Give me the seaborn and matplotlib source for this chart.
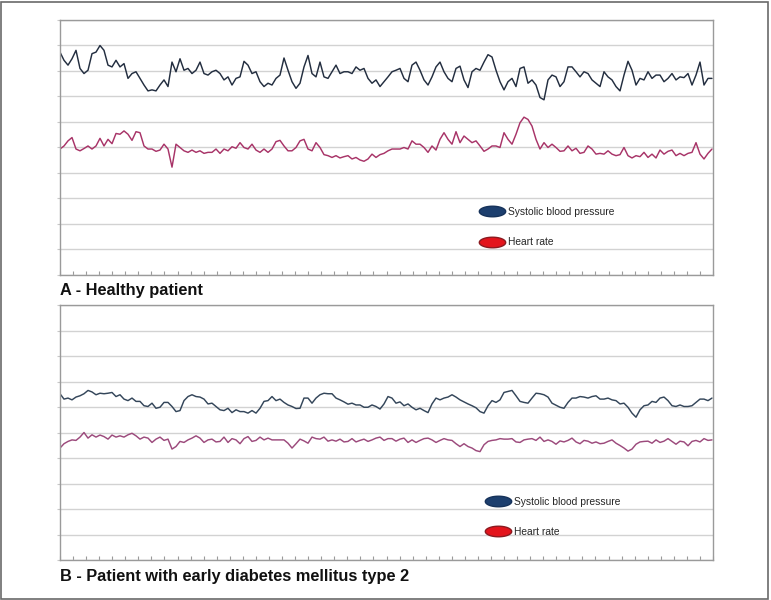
import numpy as np
import pandas as pd
import matplotlib
matplotlib.use("Agg")
import matplotlib.pyplot as plt
import seaborn as sns
from matplotlib.lines import Line2D
from matplotlib.path import Path
from matplotlib.patches import Rectangle

# ---------------- data (arbitrary vertical units, 0-10 grid) ----------------
sbp_healthy = [
    8.74, 8.42, 8.23, 8.48, 8.81, 8.10, 7.90, 8.03, 8.68, 8.74, 9.00, 8.81, 8.23, 8.16, 8.42, 8.16,
    8.29, 7.71, 7.90, 7.97, 7.71, 7.45, 7.22, 7.26, 7.22, 7.45, 7.65, 7.39, 8.35, 7.97, 8.48, 8.03,
    8.10, 7.90, 8.03, 8.35, 7.90, 7.84, 7.97, 8.03, 7.90, 7.65, 7.77, 7.45, 7.71, 7.77, 8.38, 8.23,
    7.90, 7.97, 7.58, 7.39, 7.52, 7.45, 7.71,
    7.84, 8.51, 8.03, 7.58, 7.32, 7.52, 8.16, 8.61, 7.90, 7.77, 8.35, 7.77, 7.71, 7.97, 8.23, 7.90,
    7.97, 7.97, 7.90, 8.16, 8.03, 8.10, 7.71, 7.52, 7.65, 7.39, 7.58, 7.77, 7.97, 8.03, 8.10, 7.71,
    7.58, 8.23, 8.35, 8.03, 7.65, 7.45, 7.77, 8.16, 8.35, 7.97, 7.71, 7.58, 8.10, 8.19, 7.65, 7.35,
    7.97, 8.10, 8.03, 8.35, 8.64, 8.55,
    8.03, 7.58, 7.26, 7.58, 7.71, 7.39, 8.10, 8.16, 7.52, 7.65, 7.45, 6.96, 6.87, 7.65, 7.84, 7.77,
    7.39, 7.58, 8.16, 8.16, 7.97, 7.77, 7.97, 7.90, 7.65, 7.52, 7.39, 7.97, 7.77, 7.65, 7.39, 7.22,
    7.84, 8.38, 8.03, 7.45, 7.71, 7.65, 7.97, 7.71, 7.84, 7.84, 7.58, 7.71, 7.90, 7.65, 7.77, 7.74,
    7.90, 7.45, 7.84, 8.35, 7.45, 7.71, 7.71,
]
hr_healthy = [
    4.94, 5.06, 5.26, 5.39, 4.94, 4.87, 4.96, 5.06, 4.94, 5.06, 5.36, 5.06, 5.32, 5.15, 5.55, 5.52,
    5.65, 5.52, 5.28, 5.62, 5.58, 5.06, 4.94, 4.94, 4.85, 4.90, 5.13, 4.94, 4.23, 5.13, 5.00, 4.87,
    4.81, 4.90, 4.81, 4.87, 4.77, 4.81, 4.81, 4.94, 4.77, 4.94, 4.87, 5.03, 4.97, 5.19, 5.00, 4.94,
    5.13, 4.90, 4.81, 4.94, 4.81, 4.94, 5.23,
    5.28, 5.06, 4.87, 4.87, 5.00, 5.26, 5.32, 4.94, 4.87, 5.19, 5.00, 4.72, 4.68, 4.61, 4.68, 4.59,
    4.64, 4.68, 4.55, 4.61, 4.51, 4.46, 4.55, 4.74, 4.61, 4.72, 4.77, 4.87, 4.94, 4.94, 4.94, 5.00,
    4.94, 5.26, 5.13, 5.13, 5.00, 4.81, 5.06, 4.90, 5.32, 5.58, 5.32, 5.13, 5.62, 5.19, 5.45, 5.32,
    5.19, 5.26, 5.06, 4.85, 4.94, 5.06,
    5.06, 5.00, 5.58, 5.32, 5.13, 5.52, 5.97, 6.19, 6.10, 5.84, 5.32, 4.94, 5.19, 5.00, 5.13, 5.00,
    4.85, 4.87, 5.06, 4.87, 4.97, 4.77, 4.81, 5.06, 4.94, 4.74, 4.77, 4.74, 4.87, 4.74, 4.68, 4.72,
    5.00, 4.68, 4.59, 4.68, 4.64, 4.81, 4.61, 4.74, 4.59, 4.90, 4.74, 4.85, 4.90, 4.68, 4.77, 4.68,
    4.77, 4.81, 5.19, 4.74, 4.55, 4.77, 4.94,
]
sbp_diabetes = [
    6.52, 6.31, 6.35, 6.28, 6.39, 6.44, 6.52, 6.65, 6.59, 6.48, 6.54, 6.52, 6.54, 6.57, 6.41, 6.48,
    6.31, 6.25, 6.35, 6.22, 6.22, 6.05, 6.02, 6.15, 5.95, 5.99, 6.18, 6.18, 6.02, 5.82, 5.86, 6.25,
    6.41, 6.48, 6.41, 6.39, 6.31, 6.12, 6.15, 6.02, 5.89, 5.86, 5.95, 5.78, 5.89, 5.82, 5.82, 5.76,
    5.86, 5.76, 5.95, 6.22, 6.25, 6.41, 6.25,
    6.31, 6.18, 6.08, 6.02, 5.94, 5.95, 6.35, 6.35, 6.15, 6.35, 6.48, 6.54, 6.52, 6.52, 6.35, 6.28,
    6.20, 6.11, 6.15, 6.08, 6.08, 5.99, 5.99, 6.08, 6.02, 5.92, 6.12, 6.41, 6.35, 6.15, 6.20, 6.05,
    6.12, 5.99, 5.89, 5.95, 5.86, 5.78, 6.12, 6.35, 6.28, 6.35, 6.39, 6.48, 6.39, 6.28, 6.20, 6.12,
    6.05, 5.97, 5.82, 5.76, 6.05, 6.25,
    6.18, 6.28, 6.57, 6.61, 6.65, 6.44, 6.22, 6.18, 6.15, 6.35, 6.54, 6.52, 6.48, 6.39, 6.15, 6.07,
    5.99, 5.95, 6.18, 6.35, 6.35, 6.41, 6.39, 6.35, 6.41, 6.44, 6.31, 6.31, 6.35, 6.28, 6.25, 6.12,
    6.15, 5.99, 5.76, 5.60, 5.89, 6.05, 6.08, 6.22, 6.18, 6.35, 6.39, 6.25, 6.05, 6.02, 6.08, 6.02,
    6.02, 6.05, 6.18, 6.31, 6.31, 6.25, 6.35,
]
hr_diabetes = [
    4.39, 4.56, 4.65, 4.71, 4.69, 4.82, 5.00, 4.78, 4.91, 4.82, 4.90, 4.84, 4.74, 4.90, 4.82, 4.87,
    4.82, 4.91, 4.97, 4.87, 4.74, 4.82, 4.78, 4.61, 4.74, 4.82, 4.69, 4.74, 4.35, 4.45, 4.65, 4.61,
    4.71, 4.78, 4.87, 4.78, 4.61, 4.71, 4.74, 4.63, 4.65, 4.82, 4.61, 4.76, 4.71, 4.56, 4.76, 4.84,
    4.65, 4.69, 4.82, 4.71, 4.78, 4.71, 4.71,
    4.71, 4.71, 4.58, 4.39, 4.56, 4.74, 4.67, 4.58, 4.82, 4.76, 4.74, 4.82, 4.66, 4.71, 4.66, 4.74,
    4.63, 4.65, 4.76, 4.63, 4.69, 4.74, 4.65, 4.71, 4.78, 4.82, 4.69, 4.76, 4.76, 4.66, 4.74, 4.78,
    4.61, 4.71, 4.61, 4.69, 4.76, 4.78, 4.71, 4.61, 4.69, 4.76, 4.71, 4.69, 4.56, 4.45, 4.56, 4.45,
    4.39, 4.29, 4.25, 4.52, 4.65, 4.69,
    4.71, 4.76, 4.74, 4.74, 4.76, 4.63, 4.61, 4.71, 4.74, 4.76, 4.69, 4.82, 4.65, 4.71, 4.65, 4.54,
    4.67, 4.63, 4.69, 4.78, 4.63, 4.56, 4.69, 4.66, 4.58, 4.63, 4.56, 4.58, 4.65, 4.71, 4.58, 4.49,
    4.39, 4.27, 4.35, 4.54, 4.63, 4.65, 4.66, 4.58, 4.71, 4.61, 4.66, 4.76, 4.65, 4.54, 4.66, 4.63,
    4.48, 4.65, 4.69, 4.63, 4.76, 4.69, 4.71,
]

panel_titles = ["A - Healthy patient", "B - Patient with early diabetes mellitus type 2"]
series_labels = ["Systolic blood pressure", "Heart rate"]

# ---------------- styling ----------------
sns.set_style("white")
plt.rcParams["font.family"] = ["Liberation Sans", "DejaVu Sans"]

line_colors = [("#232e40", "#a83468"), ("#34465a", "#9c4a7c")]
marker_colors = [("#1d3f6e", "#16325a"), ("#e3141c", "#8c1a20")]

fig = plt.figure(figsize=(7.71, 6.0), dpi=100)
W, H = 771, 600
axes_px = [(60, 20, 713, 275), (60, 305, 713, 560)]
legend_anchor = [(0.641, 0.268), (0.650, 0.249)]

# ellipse marker path
t = np.linspace(0, 2 * np.pi, 60)
ellipse = Path(np.column_stack([np.cos(t), 0.4 * np.sin(t)]), closed=True)

data_sets = [(sbp_healthy, hr_healthy), (sbp_diabetes, hr_diabetes)]

for k, ((l, tp, r, b), (sbp, hr)) in enumerate(zip(axes_px, data_sets)):
    ax = fig.add_axes([l / W, 1 - b / H, (r - l) / W, (b - tp) / H])
    n = len(sbp)
    df = pd.DataFrame({"t": np.arange(n), "sbp": sbp, "hr": hr})
    sns.lineplot(data=df, x="t", y="sbp", ax=ax, color=line_colors[k][0], linewidth=1.05)
    sns.lineplot(data=df, x="t", y="hr", ax=ax, color=line_colors[k][1], linewidth=1.05)
    xmax = n - 1 + 0.25
    ax.set_xlim(0, xmax)
    ax.set_ylim(0, 10)
    ax.set_yticks(np.arange(0, 11, 1))
    ax.set_yticklabels([])
    ax.set_xticks(np.linspace(0, xmax, 51))
    ax.set_xticklabels([])
    ax.set_xlabel("")
    ax.set_ylabel("")
    ax.yaxis.grid(True, color="#d2d2d2", linewidth=1.0)
    ax.xaxis.grid(False)
    ax.set_axisbelow(True)
    for s in ax.spines.values():
        s.set_color("#9a9a9a")
        s.set_linewidth(1.0)
    ax.tick_params(axis="x", direction="in", length=3, color="#9a9a9a", width=0.8, bottom=True)
    ax.tick_params(axis="y", direction="out", length=2, color="#c8c8c8", width=0.8, left=True)

    handles = [
        Line2D([], [], linestyle="none", marker=ellipse, markersize=19,
               markerfacecolor=marker_colors[0][0], markeredgecolor=marker_colors[0][1]),
        Line2D([], [], linestyle="none", marker=ellipse, markersize=19,
               markerfacecolor=marker_colors[1][0], markeredgecolor=marker_colors[1][1]),
    ]
    ax.legend(handles, series_labels, loc="upper left", bbox_to_anchor=legend_anchor[k],
              frameon=False, fontsize=7.4, labelspacing=2.0, handlelength=2.6,
              handletextpad=0.3, borderpad=0.0, borderaxespad=0.0)

    fig.text(l / W, 1 - (b + 16) / H, panel_titles[k], fontsize=11.8, fontweight="bold",
             ha="left", va="center", color="#111111")

fig.patches.append(Rectangle((0.001, 0.002), 0.995, 0.995, transform=fig.transFigure,
                             fill=False, edgecolor="#6a6a6a", linewidth=1.2))

fig.savefig("out.png", dpi=100)
